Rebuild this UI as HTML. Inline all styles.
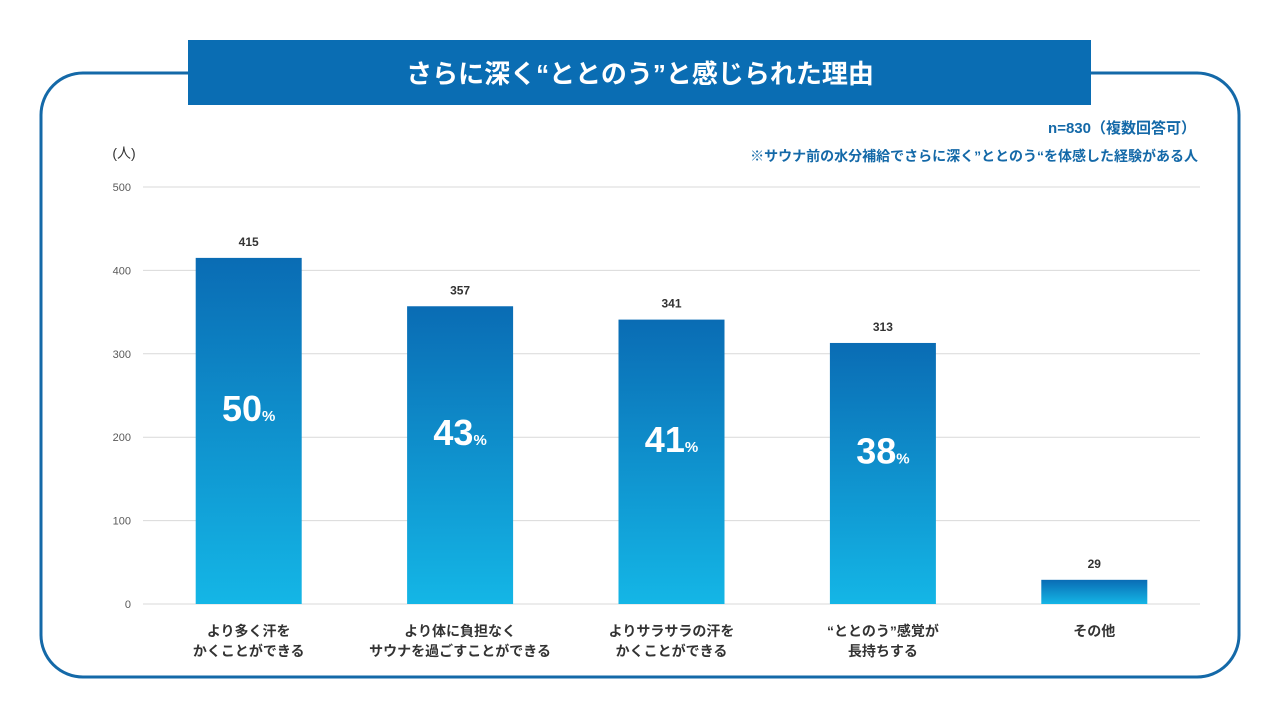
<!DOCTYPE html>
<html><head><meta charset="utf-8">
<style>
body{margin:0;width:1280px;height:720px;background:#fff;overflow:hidden;font-family:"Liberation Sans","Noto Sans CJK JP",sans-serif;}
</style></head>
<body>
<svg width="1280" height="720" style="position:absolute;left:0;top:0">
<defs>
<linearGradient id="bg" x1="0" y1="0" x2="0" y2="1">
<stop offset="0" stop-color="#0a6cb4"/><stop offset="1" stop-color="#14b6e6"/>
</linearGradient>
</defs>
<rect x="41" y="73" width="1198" height="604" rx="42" fill="none" stroke="#1469a8" stroke-width="3"/>
<rect x="188" y="40" width="903" height="65" fill="#0a6db3"/>
<text x="640" y="83" text-anchor="middle" fill="#fff" font-size="26" font-weight="bold" font-family="Liberation Sans, Noto Sans CJK JP, sans-serif">さらに深く“ととのう”と感じられた理由</text>
<text x="1196" y="133" text-anchor="end" fill="#1469a8" font-size="15" font-weight="bold" font-family="Liberation Sans, Noto Sans CJK JP, sans-serif">n=830（複数回答可）</text>
<text x="1198" y="161" text-anchor="end" fill="#1469a8" font-size="14" font-weight="bold" font-family="Liberation Sans, Noto Sans CJK JP, sans-serif">※サウナ前の水分補給でさらに深く”ととのう“を体感した経験がある人</text>
<text x="124" y="158" text-anchor="middle" fill="#333" font-size="14" font-family="Liberation Sans, Noto Sans CJK JP, sans-serif">(人)</text>
<g id="grid"></g><g id="bars"></g>
</svg>
<script>
const categories=[["より多く汗を","かくことができる"],["より体に負担なく","サウナを過ごすことができる"],["よりサラサラの汗を","かくことができる"],["“ととのう”感覚が","長持ちする"],["その他"]];
const values=[415,357,341,313,29];
const percents=["50","43","41","38",""];
const ticks=[0,100,200,300,400,500];
const NS="http://www.w3.org/2000/svg";
const x0=143,x1=1200,y0=604,y1=187;
const y=v=>y0-(v/500)*(y0-y1);
const band=(x1-x0)/categories.length;
const cx=i=>x0+band*(i+0.5);
function mk(t,a,p,txt){const e=document.createElementNS(NS,t);for(const k in a)e.setAttribute(k,a[k]);if(txt!==undefined)e.textContent=txt;p.appendChild(e);return e;}
const g=document.getElementById('grid'),b=document.getElementById('bars');
ticks.forEach(t=>{
 const l=mk('line',{x1:x0,x2:x1,y1:y(t),y2:y(t),stroke:'#d9d9d9','stroke-width':1},g);
 
 
 const tx=mk('text',{x:131,y:y(t)+4,'text-anchor':'end','font-size':11,fill:'#595959'},g,String(t));
 
 
});
const bw=106;
values.forEach((v,i)=>{
 const r=mk('rect',{x:cx(i)-bw/2,y:y(v),width:bw,height:y0-y(v),fill:'url(#bg)'},b);
 
 
 const lv=mk('text',{x:cx(i),y:y(v)-12,'text-anchor':'middle','font-size':12,'font-weight':'bold',fill:'#333'},b,String(v));
 
 
 if(percents[i]){
  const py=(y(v)+y0)/2;
  const pt=mk('text',{x:cx(i),y:py-10,'text-anchor':'middle','font-size':36,'font-weight':'bold',fill:'#fff'},b);
  
  
  mk('tspan',{},pt,percents[i]);
  mk('tspan',{'font-size':15},pt,'%');
 }
 categories[i].forEach((s,j)=>{
  const c=mk('text',{x:cx(i),y:636+j*20,'text-anchor':'middle','font-size':14,'font-weight':'bold',fill:'#333'},b,s);
  
  
 });
});
</script>
</body></html>
